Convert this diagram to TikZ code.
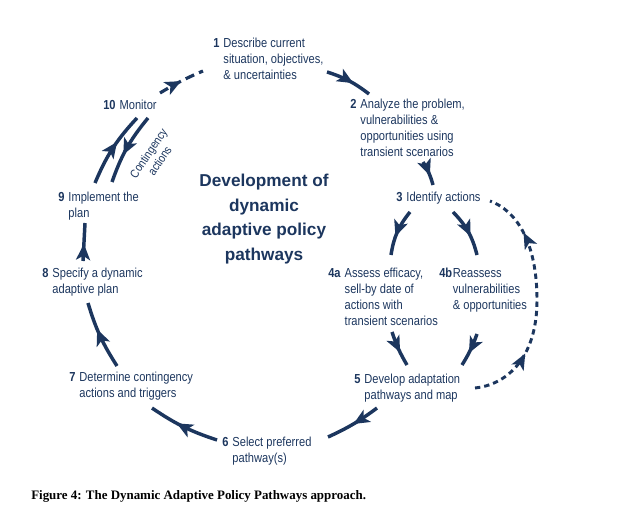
\documentclass[tikz,border=0pt]{standalone}
\usepackage{fontspec}
\setmainfont{Liberation Sans}
\newfontfamily\stepfont{Liberation Sans}[FakeStretch=0.85]
\newfontfamily\capfont{Liberation Serif}
\usetikzlibrary{arrows.meta,decorations.markings}
\definecolor{dappnavy}{RGB}{28,54,94}
\newcommand\steptext[2]{\textbf{#1}\hspace{3pt}\begin{tabular}[t]{@{}l@{}}#2\end{tabular}}
\tikzset{
stepnode/.style={
  anchor=base west,
  inner sep=0pt,
  text=dappnavy,
  font=\stepfont\fontsize{9.8}{12}\selectfont
},
flowarrow/.style={
  color=dappnavy,
  line width=2.6pt,
  postaction={decorate},
  decoration={markings,
    mark=at position #1 with {\arrow{Stealth[length=12pt,width=10.5pt,inset=3pt]}}}
},
flowarrow/.default=0.6,
dasharrow/.style={
  color=dappnavy,
  line width=2.4pt,
  dash pattern=on 7pt off 4pt,
  postaction={decorate},
  decoration={markings,
    mark=at position 0.5 with {\arrow{Stealth[length=12pt,width=10.5pt,inset=3pt]}}}
},
dashloop/.style={
  color=dappnavy,
  line width=2.2pt,
  dash pattern=on 4pt off 3pt,
  postaction={decorate},
  decoration={markings,
    mark=at position 0.27 with {\arrow{Stealth[length=12pt,width=10pt,inset=3pt]}},
    mark=at position 0.80 with {\arrow{Stealth[length=12pt,width=10pt,inset=3pt]}}}
}
}

\begin{document}
\begin{tikzpicture}[x={(0.75pt,0)}, y={(0,-0.75pt)}]
\useasboundingbox (0,0) rectangle (620,513);

% steps of the cycle
\node[stepnode] (s1) at (213,48) {\steptext{1}{Describe current\\situation, objectives,\\\& uncertainties}};
\node[stepnode] (s2) at (350,109) {\steptext{2}{Analyze the problem,\\vulnerabilities \&\\opportunities using\\transient scenarios}};
\node[stepnode] (s3) at (396,201) {\steptext{3}{Identify actions}};
\node[stepnode] (s4a) at (328,277) {\steptext{4a}{Assess efficacy,\\sell-by date of\\actions with\\transient scenarios}};
\node[stepnode] (s4b) at (439,277) {\textbf{4b}\hspace{0.5pt}\begin{tabular}[t]{@{}l@{}}Reassess\\vulnerabilities\\\& opportunities\end{tabular}};
\node[stepnode] (s5) at (354,383) {\steptext{5}{Develop adaptation\\pathways and map}};
\node[stepnode] (s6) at (222,446) {\steptext{6}{Select preferred\\pathway(s)}};
\node[stepnode] (s7) at (69,381) {\steptext{7}{Determine contingency\\actions and triggers}};
\node[stepnode] (s8) at (42,277) {\steptext{8}{Specify a dynamic\\adaptive plan}};
\node[stepnode] (s9) at (58,201) {\steptext{9}{Implement the\\plan}};
\node[stepnode] (s10) at (103,110) {\steptext{10}{Monitor}};

\node[align=center, text=dappnavy, font=\bfseries\fontsize{12.9}{18.4}\selectfont] (title) at (264,219)
  {Development of\\dynamic\\adaptive policy\\pathways};
\node[rotate=56, align=center, inner sep=0pt, text=dappnavy, font=\stepfont\fontsize{9}{10.2}\selectfont] (contlabel) at (154,157)
  {Contingency\\actions};
\node[anchor=base west, inner sep=0pt, font=\capfont\bfseries\fontsize{9.7}{12}\selectfont] (caption) at (31,499)
  {Figure 4: The Dynamic Adaptive Policy Pathways approach.};

% arrow ends
\coordinate (s1out) at (327,72);   \coordinate (s2in) at (369,94);
\coordinate (s2out) at (423,162);  \coordinate (s3in) at (433,185);
\coordinate (s3outa) at (410,212); \coordinate (s4ain) at (391,255);
\coordinate (s3outb) at (453,212); \coordinate (s4bin) at (477,255);
\coordinate (s4aout) at (392,332); \coordinate (s5ina) at (407,365);
\coordinate (s4bout) at (477,334); \coordinate (s5inb) at (462,365);
\coordinate (s5out) at (377,408);  \coordinate (s6in) at (328,437);
\coordinate (s6out) at (217,440);  \coordinate (s7in) at (152,408);
\coordinate (s7out) at (117,366);  \coordinate (s8in) at (88,303);
\coordinate (s8out) at (83,261);   \coordinate (s9in) at (85,223);
\coordinate (s9out) at (95,183);   \coordinate (s10in) at (137,118);
\coordinate (s10out) at (148,118); \coordinate (s9back) at (112,182);
\coordinate (s10up) at (160,93);   \coordinate (s1back) at (203,71);
\coordinate (s5loop) at (475,388); \coordinate (s3loop) at (490,201);

\draw[flowarrow] (s1out) to[bend left=10] (s2in);
\draw[flowarrow] (s2out) to[bend left=8] (s3in);
\draw[flowarrow] (s3outa) to[bend right=15] (s4ain);
\draw[flowarrow] (s3outb) to[bend left=15] (s4bin);
\draw[flowarrow] (s4aout) to[bend right=6] (s5ina);
\draw[flowarrow] (s4bout) to[bend left=6] (s5inb);
\draw[flowarrow=0.5] (s5out) to[bend left=6] (s6in);
\draw[flowarrow] (s6out) to[bend left=8] (s7in);
\draw[flowarrow] (s7out) to[bend left=8] (s8in);
\draw[flowarrow=0.45] (s8out) -- (s9in);
\draw[flowarrow] (s9out) to[bend left=10] (s10in);
\draw[flowarrow] (s10out) to[bend right=10] (s9back);
\draw[dasharrow] (s10up) to[bend left=4] (s1back);
\draw[dashloop] (s5loop) .. controls (505,385) and (537,360) .. (537,300)
  .. controls (537,240) and (515,210) .. (s3loop);

\end{tikzpicture}
\end{document}
